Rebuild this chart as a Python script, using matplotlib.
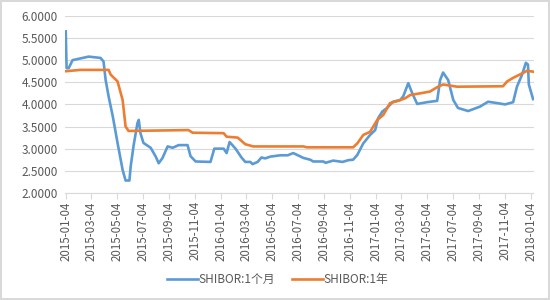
import matplotlib

matplotlib.use("Agg")
import matplotlib.dates as mdates
import pandas as pd
from matplotlib import pyplot as plt
from matplotlib.ticker import FormatStrFormatter

plt.rcParams["font.family"] = ["Noto Sans CJK SC", "DejaVu Sans"]

# SHIBOR 1-month
m1_dates = [
    "2015-01-04", "2015-01-06", "2015-01-11", "2015-01-20", "2015-02-08", "2015-02-27",
    "2015-03-27", "2015-04-03", "2015-04-08", "2015-04-15", "2015-04-25", "2015-05-06",
    "2015-05-18", "2015-05-25", "2015-06-03", "2015-06-06", "2015-06-13", "2015-06-22",
    "2015-06-25", "2015-06-29", "2015-07-06", "2015-07-23", "2015-08-04", "2015-08-11",
    "2015-08-20", "2015-09-01", "2015-09-13", "2015-09-27", "2015-10-18", "2015-10-25",
    "2015-11-06", "2015-12-11", "2015-12-20", "2016-01-11", "2016-01-18", "2016-01-25",
    "2016-02-08", "2016-02-22", "2016-03-02", "2016-03-14", "2016-03-19", "2016-03-31",
    "2016-04-09", "2016-04-18", "2016-04-30", "2016-05-24", "2016-06-10", "2016-06-23",
    "2016-07-17", "2016-08-02", "2016-08-09", "2016-09-02", "2016-09-07", "2016-09-25",
    "2016-10-17", "2016-10-31", "2016-11-11", "2016-11-21", "2016-12-05", "2016-12-21",
    "2017-01-02", "2017-01-09", "2017-01-19", "2017-01-30", "2017-02-13", "2017-03-02",
    "2017-03-09", "2017-03-21", "2017-03-30", "2017-04-11", "2017-05-04", "2017-05-28",
    "2017-06-04", "2017-06-11", "2017-06-23", "2017-07-05", "2017-07-16", "2017-08-09",
    "2017-09-06", "2017-09-25", "2017-10-16", "2017-11-04", "2017-11-23", "2017-12-02",
    "2017-12-14", "2017-12-23", "2017-12-28", "2017-12-30", "2018-01-09",
]
m1_values = [
    5.65, 4.82, 4.82, 5.00, 5.04, 5.08,
    5.05, 4.97, 4.55, 4.18, 3.72, 3.13,
    2.52, 2.28, 2.28, 2.60, 3.08, 3.58,
    3.65, 3.35, 3.13, 3.02, 2.82, 2.67,
    2.79, 3.05, 3.02, 3.08, 3.08, 2.83,
    2.71, 2.70, 3.00, 3.00, 2.90, 3.15,
    3.00, 2.80, 2.70, 2.70, 2.65, 2.70,
    2.80, 2.78, 2.82, 2.85, 2.85, 2.90,
    2.79, 2.75, 2.71, 2.71, 2.68, 2.73,
    2.70, 2.74, 2.75, 2.86, 3.12, 3.31,
    3.42, 3.69, 3.84, 3.92, 4.06, 4.10,
    4.18, 4.48, 4.26, 4.01, 4.05, 4.08,
    4.55, 4.72, 4.55, 4.10, 3.92, 3.85,
    3.95, 4.06, 4.03, 4.00, 4.05, 4.40,
    4.67, 4.94, 4.90, 4.45, 4.12,
]

# SHIBOR 1-year
y1_dates = [
    "2015-01-04", "2015-02-08", "2015-03-27", "2015-04-15", "2015-04-20", "2015-05-06",
    "2015-05-18", "2015-05-25", "2015-06-01", "2015-10-20", "2015-10-30", "2016-01-11",
    "2016-01-18", "2016-02-13", "2016-03-02", "2016-03-21", "2016-07-17", "2016-07-25",
    "2016-11-11", "2016-11-21", "2016-12-05", "2016-12-21", "2017-01-07", "2017-01-21",
    "2017-02-06", "2017-02-25", "2017-03-14", "2017-03-25", "2017-04-18", "2017-05-11",
    "2017-05-30", "2017-06-11", "2017-07-14", "2017-10-30", "2017-11-09", "2017-11-23",
    "2017-12-14", "2017-12-26", "2018-01-09",
]
y1_values = [
    4.75, 4.78, 4.78, 4.78, 4.67, 4.52,
    4.10, 3.50, 3.40, 3.42, 3.36, 3.35,
    3.27, 3.25, 3.10, 3.05, 3.05, 3.03,
    3.03, 3.12, 3.31, 3.38, 3.65, 3.76,
    4.03, 4.08, 4.14, 4.21, 4.25, 4.29,
    4.40, 4.45, 4.40, 4.41, 4.52, 4.60,
    4.70, 4.76, 4.74,
]

tick_dates = [pd.Timestamp("2015-01-04") + pd.DateOffset(months=2 * i) for i in range(19)]
y_ticks = [2.0, 2.5, 3.0, 3.5, 4.0, 4.5, 5.0, 5.5, 6.0]

blue = "#5b9bd5"
orange = "#ed7d31"
grey_text = "#595959"

fig = plt.figure(figsize=(5.5, 3.0), dpi=100)
fig.patch.set_edgecolor("#d9d9d9")
fig.patch.set_linewidth(1.5)
ax = fig.add_axes([0.118, 0.357, 0.852, 0.59])

ax.plot(pd.to_datetime(m1_dates), m1_values, color=blue, linewidth=1.9, label="SHIBOR:1个月")
ax.plot(pd.to_datetime(y1_dates), y1_values, color=orange, linewidth=1.9, label="SHIBOR:1年")

ax.set_ylim(2.0, 6.0)
ax.set_yticks(y_ticks)
ax.yaxis.set_major_formatter(FormatStrFormatter("%.4f"))
ax.set_xlim(pd.Timestamp("2015-01-02"), pd.Timestamp("2018-01-10"))
ax.set_xticks(tick_dates)
ax.xaxis.set_major_formatter(mdates.DateFormatter("%Y-%m-%d"))
plt.setp(ax.get_xticklabels(), rotation=90)

ax.grid(axis="y", color="#d9d9d9", linewidth=0.8)
ax.set_axisbelow(True)
for side in ["top", "right", "left"]:
    ax.spines[side].set_visible(False)
ax.spines["bottom"].set_color("#d9d9d9")
ax.tick_params(axis="y", length=0, labelsize=8.5, labelcolor=grey_text, pad=5)
ax.tick_params(axis="x", length=4, color="#d9d9d9", labelsize=8.3, labelcolor=grey_text, pad=2)

fig.legend(loc="center", bbox_to_anchor=(0.505, 0.067), ncol=2, frameon=False,
           fontsize=8.5, labelcolor=grey_text, handlelength=2.6, handletextpad=0.1,
           columnspacing=1.4)

fig.savefig("out.png", dpi=100, edgecolor=fig.get_edgecolor())
